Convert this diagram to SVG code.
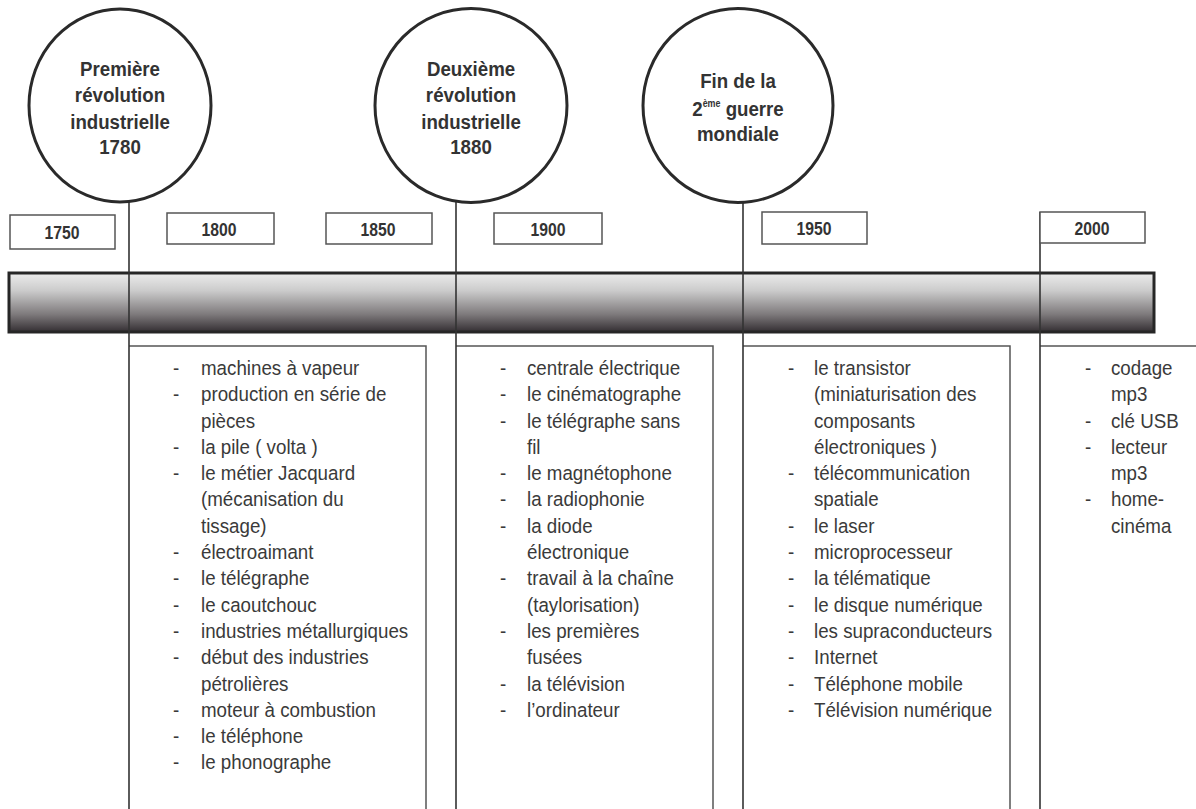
<svg xmlns="http://www.w3.org/2000/svg" width="1196" height="809" viewBox="0 0 1196 809">
<defs>
<linearGradient id="barGrad" x1="0" y1="0" x2="0" y2="1">
<stop offset="0" stop-color="#ececec"/>
<stop offset="0.3" stop-color="#cbcbcb"/>
<stop offset="0.7" stop-color="#7e7a7c"/>
<stop offset="1" stop-color="#332e32"/>
</linearGradient>
<style>
.circ{fill:#fff;stroke:#2a2a2a;stroke-width:3}
.ct{font-family:"Liberation Sans",Arial,sans-serif;font-weight:bold;font-size:21px;fill:#333;text-anchor:middle}
.yb{fill:#fff;stroke:#555;stroke-width:1.5}
.yt{font-family:"Liberation Sans",Arial,sans-serif;font-weight:bold;font-size:17.5px;fill:#333;text-anchor:middle}
.conn{stroke:#333;stroke-width:1.6;fill:none}
.box{stroke:#555;stroke-width:1.5;fill:none}
.lt{font-family:"Liberation Sans",Arial,sans-serif;font-size:20.5px;fill:#3a3a3a}
</style>
</defs>
<rect width="1196" height="809" fill="#fff"/>

<g id="timeline-bar">
<rect x="9" y="273" width="1145" height="59" fill="url(#barGrad)" stroke="#262626" stroke-width="3"/>
</g>

<g id="boxes">
<path class="box" d="M129 346 H426 V809"/>
<path class="box" d="M456 346 H713 V809"/>
<path class="box" d="M743 346 H1010 V809"/>
<path class="box" d="M1040 346 H1196"/>
</g>

<g id="connectors">
<line class="conn" x1="129" y1="201" x2="129" y2="809"/>
<line class="conn" x1="456" y1="201" x2="456" y2="809"/>
<line class="conn" x1="743" y1="202" x2="743" y2="809"/>
<line class="conn" x1="1040" y1="212" x2="1040" y2="809"/>
</g>

<g id="circle-1780">
<ellipse class="circ" cx="120" cy="105.5" rx="91" ry="96.5"/>
<g transform="translate(120,0) scale(0.89,1)">
<text class="ct" x="0" y="76">Première</text>
<text class="ct" x="0" y="102">révolution</text>
<text class="ct" x="0" y="129">industrielle</text>
<text class="ct" x="0" y="154">1780</text>
</g>
</g>

<g id="circle-1880">
<ellipse class="circ" cx="471" cy="105.5" rx="96" ry="97"/>
<g transform="translate(471,0) scale(0.89,1)">
<text class="ct" x="0" y="76">Deuxième</text>
<text class="ct" x="0" y="102">révolution</text>
<text class="ct" x="0" y="129">industrielle</text>
<text class="ct" x="0" y="154">1880</text>
</g>
</g>

<g id="circle-ww2">
<ellipse class="circ" cx="738" cy="105.5" rx="95" ry="97"/>
<g transform="translate(738,0) scale(0.89,1)">
<text class="ct" x="0" y="88">Fin de la</text>
<text class="ct" x="0" y="116">2<tspan font-size="10" dy="-9">ème</tspan><tspan dy="9"> guerre</tspan></text>
<text class="ct" x="0" y="141">mondiale</text>
</g>
</g>

<g id="year-1750"><rect class="yb" x="10" y="215" width="105" height="34"/><text class="yt" transform="translate(62,0) scale(0.9,1)" x="0" y="239">1750</text></g>
<g id="year-1800"><rect class="yb" x="167" y="213" width="107" height="31"/><text class="yt" transform="translate(219,0) scale(0.9,1)" x="0" y="236">1800</text></g>
<g id="year-1850"><rect class="yb" x="326" y="213" width="106" height="31"/><text class="yt" transform="translate(378,0) scale(0.9,1)" x="0" y="236">1850</text></g>
<g id="year-1900"><rect class="yb" x="494" y="213" width="108" height="31"/><text class="yt" transform="translate(548,0) scale(0.9,1)" x="0" y="236">1900</text></g>
<g id="year-1950"><rect class="yb" x="762" y="212" width="105" height="32"/><text class="yt" transform="translate(814,0) scale(0.9,1)" x="0" y="235">1950</text></g>
<g id="year-2000"><rect class="yb" x="1040" y="212" width="105" height="31"/><text class="yt" transform="translate(1092,0) scale(0.9,1)" x="0" y="235">2000</text></g>

<g id="list-1800" class="lt" transform="translate(201,0) scale(0.915,1)">
<text x="-30.5" y="375">-</text><text x="0" y="375">machines à vapeur</text>
<text x="-30.5" y="401.3">-</text><text x="0" y="401.3">production en série de</text>
<text x="0" y="427.6">pièces</text>
<text x="-30.5" y="453.9">-</text><text x="0" y="453.9">la pile ( volta )</text>
<text x="-30.5" y="480.2">-</text><text x="0" y="480.2">le métier Jacquard</text>
<text x="0" y="506.5">(mécanisation du</text>
<text x="0" y="532.8">tissage)</text>
<text x="-30.5" y="559.1">-</text><text x="0" y="559.1">électroaimant</text>
<text x="-30.5" y="585.4">-</text><text x="0" y="585.4">le télégraphe</text>
<text x="-30.5" y="611.7">-</text><text x="0" y="611.7">le caoutchouc</text>
<text x="-30.5" y="638">-</text><text x="0" y="638">industries métallurgiques</text>
<text x="-30.5" y="664.3">-</text><text x="0" y="664.3">début des industries</text>
<text x="0" y="690.6">pétrolières</text>
<text x="-30.5" y="716.9">-</text><text x="0" y="716.9">moteur à combustion</text>
<text x="-30.5" y="743.2">-</text><text x="0" y="743.2">le téléphone</text>
<text x="-30.5" y="769.5">-</text><text x="0" y="769.5">le phonographe</text>
</g>

<g id="list-1900" class="lt" transform="translate(527,0) scale(0.915,1)">
<text x="-29.5" y="375">-</text><text x="0" y="375">centrale électrique</text>
<text x="-29.5" y="401.3">-</text><text x="0" y="401.3">le cinématographe</text>
<text x="-29.5" y="427.6">-</text><text x="0" y="427.6">le télégraphe sans</text>
<text x="0" y="453.9">fil</text>
<text x="-29.5" y="480.2">-</text><text x="0" y="480.2">le magnétophone</text>
<text x="-29.5" y="506.5">-</text><text x="0" y="506.5">la radiophonie</text>
<text x="-29.5" y="532.8">-</text><text x="0" y="532.8">la diode</text>
<text x="0" y="559.1">électronique</text>
<text x="-29.5" y="585.4">-</text><text x="0" y="585.4">travail à la chaîne</text>
<text x="0" y="611.7">(taylorisation)</text>
<text x="-29.5" y="638">-</text><text x="0" y="638">les premières</text>
<text x="0" y="664.3">fusées</text>
<text x="-29.5" y="690.6">-</text><text x="0" y="690.6">la télévision</text>
<text x="-29.5" y="716.9">-</text><text x="0" y="716.9">l’ordinateur</text>
</g>

<g id="list-1950" class="lt" transform="translate(814,0) scale(0.915,1)">
<text x="-28.5" y="375">-</text><text x="0" y="375">le transistor</text>
<text x="0" y="401.3">(miniaturisation des</text>
<text x="0" y="427.6">composants</text>
<text x="0" y="453.9">électroniques )</text>
<text x="-28.5" y="480.2">-</text><text x="0" y="480.2">télécommunication</text>
<text x="0" y="506.5">spatiale</text>
<text x="-28.5" y="532.8">-</text><text x="0" y="532.8">le laser</text>
<text x="-28.5" y="559.1">-</text><text x="0" y="559.1">microprocesseur</text>
<text x="-28.5" y="585.4">-</text><text x="0" y="585.4">la télématique</text>
<text x="-28.5" y="611.7">-</text><text x="0" y="611.7">le disque numérique</text>
<text x="-28.5" y="638">-</text><text x="0" y="638">les supraconducteurs</text>
<text x="-28.5" y="664.3">-</text><text x="0" y="664.3">Internet</text>
<text x="-28.5" y="690.6">-</text><text x="0" y="690.6">Téléphone mobile</text>
<text x="-28.5" y="716.9">-</text><text x="0" y="716.9">Télévision numérique</text>
</g>

<g id="list-2000" class="lt" transform="translate(1111,0) scale(0.915,1)">
<text x="-28.5" y="375">-</text><text x="0" y="375">codage</text>
<text x="0" y="401.3">mp3</text>
<text x="-28.5" y="427.6">-</text><text x="0" y="427.6">clé USB</text>
<text x="-28.5" y="453.9">-</text><text x="0" y="453.9">lecteur</text>
<text x="0" y="480.2">mp3</text>
<text x="-28.5" y="506.5">-</text><text x="0" y="506.5">home-</text>
<text x="0" y="532.8">cinéma</text>
</g>
</svg>
